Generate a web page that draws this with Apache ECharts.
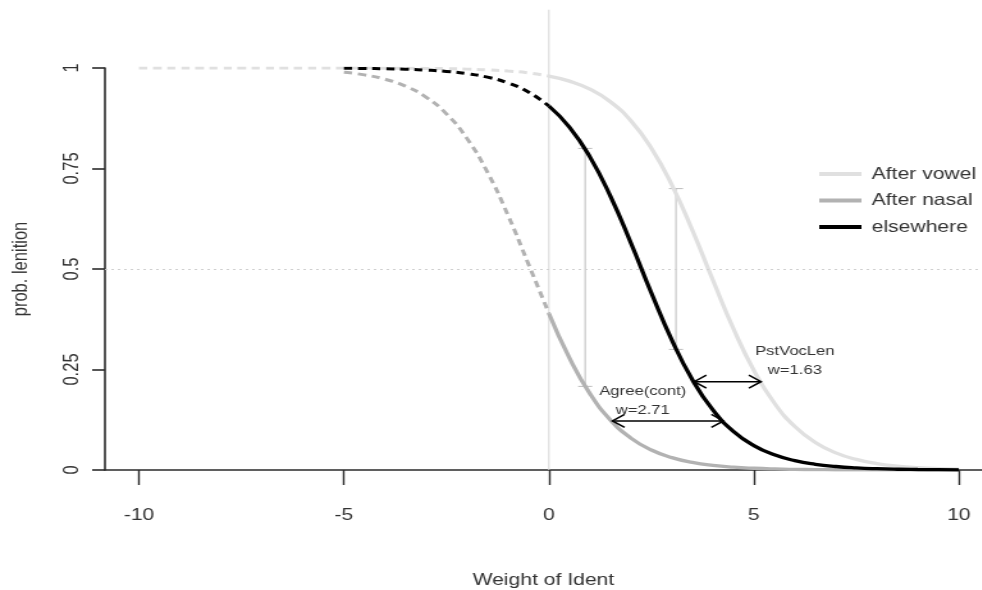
<!DOCTYPE html>
<html>
<head>
<meta charset="utf-8">
<script src="https://cdn.jsdelivr.net/npm/echarts@6/dist/echarts.min.js"></script>
<style>
  html, body { margin: 0; padding: 0; background: #fff; overflow: hidden; width: 982px; height: 590px; }
  /* the plot is laid out on a narrower canvas and widened horizontally */
  #chart { position: absolute; left: 0; top: 0; width: 767px; height: 590px; transform: scaleX(1.28); transform-origin: 0 0; }
</style>
</head>
<body>
<div id="chart"></div>
<script>
// Predicted probability of lenition against the weight of the Ident constraint
const xVowel = [-10, -9.5, -9, -8.5, -8, -7.5, -7, -6.5, -6, -5.5, -5, -4.5, -4, -3.5, -3, -2.5, -2, -1.5, -1, -0.5,
                0, 0.5, 1, 1.5, 2, 2.5, 3, 3.5, 4, 4.5, 5, 5.5, 6, 6.5, 7, 7.5, 8, 8.5, 9, 9.5, 10];
const vowelProb = [1.0000, 1.0000, 1.0000, 1.0000, 1.0000, 1.0000, 0.9999, 0.9999, 0.9999, 0.9999, 0.9999, 0.9998,
                   0.9996, 0.9994, 0.9990, 0.9983, 0.9972, 0.9955, 0.9925, 0.9878,
                   0.9800, 0.9674, 0.9473, 0.9161, 0.8688, 0.8006, 0.7089, 0.5963, 0.4725, 0.3520, 0.2479,
                   0.1666, 0.1081, 0.0685, 0.0427, 0.0263, 0.0161, 0.0099, 0.0060, 0.0036, 0.0022];

const xOther = [-5, -4.5, -4, -3.5, -3, -2.5, -2, -1.5, -1, -0.5,
                0, 0.5, 1, 1.5, 2, 2.5, 3, 3.5, 4, 4.5, 5, 5.5, 6, 6.5, 7, 7.5, 8, 8.5, 9, 9.5, 10];
const nasalProb = [0.9895, 0.9829, 0.9721, 0.9548, 0.9276, 0.8860, 0.8249, 0.7408, 0.6342, 0.5125,
                   0.3894, 0.2789, 0.1900, 0.1245, 0.0794, 0.0497, 0.0308, 0.0189, 0.0115, 0.0070, 0.0043,
                   0.0026, 0.0016, 0.0010, 0.0006, 0.0004, 0.0002, 0.0001, 0.0001, 0.0000, 0.0000];
const elsewhereProb = [0.9993, 0.9988, 0.9981, 0.9969, 0.9948, 0.9915, 0.9861, 0.9772, 0.9630, 0.9405,
                       0.9055, 0.8532, 0.7790, 0.6813, 0.5646, 0.4403, 0.3230, 0.2244, 0.1493, 0.0962, 0.0606,
                       0.0377, 0.0232, 0.0142, 0.0087, 0.0053, 0.0032, 0.0019, 0.0012, 0.0007, 0.0004];

// Interval bars between curves
const errX = [0.885, 3.1];
const errLow = [0.208, 0.30];
const errHigh = [0.80, 0.70];

// Constraint-weight arrows: start, height, width
const arrowNames = ['PstVocLen', 'Agree(cont)'];
const arrowStart = [3.545, 1.55];
const arrowY = [0.2197, 0.122];
const arrowW = [1.63, 2.71];
const arrowLabelX = [6.0, 2.29];

const xTicks = [-10, -5, 0, 5, 10];
const yTop = 1.145;

const FONT = '"Liberation Sans", Arial, sans-serif';
const colVowel = '#e0e0e0';
const colNasal = '#b2b2b2';
const colElse = '#000000';
const axisCol = '#2b2b2b';

function pts(xs, ys, pred) {
  const out = [];
  xs.forEach((x, i) => { if (pred(x)) out.push([x, ys[i]]); });
  return out;
}

function curve(name, xs, ys, color, z) {
  return [
    {
      name: name, type: 'line', data: pts(xs, ys, x => x >= 0),
      smooth: true, showSymbol: false, symbol: 'none', z: z,
      lineStyle: { color: color, width: 3.3 }, itemStyle: { color: color }
    },
    {
      name: name, type: 'line', data: pts(xs, ys, x => x <= 0),
      smooth: true, showSymbol: false, symbol: 'none', z: z,
      lineStyle: { color: color, width: 3, type: [6.5, 4.5] }, itemStyle: { color: color }
    }
  ];
}

const chart = echarts.init(document.getElementById('chart'), null, { width: 767, height: 590 });

const option = {
  animation: false,
  backgroundColor: '#fff',
  textStyle: { fontFamily: FONT },
  grid: { left: 82, right: 0, top: 68, bottom: 120, outerBoundsMode: 'none', containLabel: false },
  legend: {
    orient: 'vertical', left: 635, top: 160,
    itemWidth: 33, itemHeight: 4, itemGap: 8.5,
    icon: 'rect',
    textStyle: { fontSize: 16.5, color: '#333', fontFamily: FONT, lineHeight: 18, padding: [0, 0, 0, 3] },
    data: [
      { name: 'After vowel', itemStyle: { color: colVowel } },
      { name: 'After nasal', itemStyle: { color: colNasal } },
      { name: 'elsewhere', itemStyle: { color: colElse } }
    ]
  },
  xAxis: {
    type: 'value', min: -10.83, max: 10.56,
    name: 'Weight of Ident', nameLocation: 'middle', nameGap: 102,
    nameTextStyle: { fontSize: 16.5, color: '#333', fontFamily: FONT },
    axisLine: { show: true, onZero: false, lineStyle: { color: axisCol, width: 1.6 } },
    axisTick: { show: true, customValues: xTicks, length: 15, lineStyle: { color: axisCol, width: 1.4 } },
    axisLabel: { customValues: xTicks, margin: 37, fontSize: 16.5, color: '#333', fontFamily: FONT },
    splitLine: { show: false }
  },
  yAxis: {
    type: 'value', min: 0, max: 1, interval: 0.25,
    name: 'prob. lenition', nameLocation: 'middle', nameGap: 57, nameRotate: 90,
    nameTextStyle: { fontSize: 16.5, color: '#333', fontFamily: FONT },
    axisLine: { show: true, onZero: false, lineStyle: { color: axisCol, width: 1.6 } },
    axisTick: { show: true, length: 10, lineStyle: { color: axisCol, width: 1.6 } },
    axisLabel: { rotate: 90, margin: 17, fontSize: 16.5, color: '#333', fontFamily: FONT },
    splitLine: { show: false }
  },
  series: [
    {
      // reference lines at x = 0 and p = 0.5
      type: 'line', data: [[0, 0], [0, yTop]], clip: false, silent: true,
      symbol: 'none', z: 1,
      lineStyle: { color: '#d6d6d6', width: 1 },
      markLine: {
        silent: true, symbol: 'none', label: { show: false },
        lineStyle: { color: '#d0d0d0', width: 1, type: [2, 3] },
        data: [{ yAxis: 0.5 }]
      }
    },
    {
      type: 'custom', z: 2, silent: true,
      data: errX.map((x, i) => [x, errLow[i], errHigh[i]]),
      encode: { x: 0, y: [1, 2] },
      renderItem: function (params, api) {
        const x = api.value(0);
        const top = api.coord([x, api.value(2)]);
        const bot = api.coord([x, api.value(1)]);
        const cap = 5.5;
        const st = { stroke: '#bcbcbc', lineWidth: 1 };
        return {
          type: 'group',
          children: [
            { type: 'line', shape: { x1: top[0], y1: top[1], x2: bot[0], y2: bot[1] }, style: st },
            { type: 'line', shape: { x1: top[0] - cap, y1: top[1], x2: top[0] + cap, y2: top[1] }, style: st },
            { type: 'line', shape: { x1: bot[0] - cap, y1: bot[1], x2: bot[0] + cap, y2: bot[1] }, style: st }
          ]
        };
      }
    },
    ...curve('After vowel', xVowel, vowelProb, colVowel, 3),
    ...curve('After nasal', xOther, nasalProb, colNasal, 4),
    ...curve('elsewhere', xOther, elsewhereProb, colElse, 5),
    {
      type: 'custom', z: 6, silent: true,
      data: arrowStart.map((s, i) => [s, arrowY[i], arrowW[i], arrowLabelX[i], i]),
      encode: { x: 0, y: 1 },
      renderItem: function (params, api) {
        const s = api.value(0), y = api.value(1), w = api.value(2);
        const p1 = api.coord([s, y]);
        const p2 = api.coord([s + w, y]);
        const lp = api.coord([api.value(3), y]);
        const name = arrowNames[api.value(4)];
        const hl = 9.5, hs = 6.5;
        const st = { stroke: '#000', lineWidth: 1.5, fill: null };
        return {
          type: 'group',
          children: [
            { type: 'line', shape: { x1: p1[0], y1: p1[1], x2: p2[0], y2: p2[1] }, style: st },
            { type: 'polyline', shape: { points: [[p1[0] + hl, p1[1] - hs], [p1[0], p1[1]], [p1[0] + hl, p1[1] + hs]] }, style: st },
            { type: 'polyline', shape: { points: [[p2[0] - hl, p2[1] - hs], [p2[0], p2[1]], [p2[0] - hl, p2[1] + hs]] }, style: st },
            {
              type: 'text', x: lp[0], y: lp[1] - 1.5,
              style: {
                text: name + '\nw=' + w.toFixed(2),
                fill: '#333', font: '13px ' + FONT, lineHeight: 19,
                align: 'center', verticalAlign: 'bottom'
              }
            }
          ]
        };
      }
    }
  ]
};

chart.setOption(option);
</script>
</body>
</html>
